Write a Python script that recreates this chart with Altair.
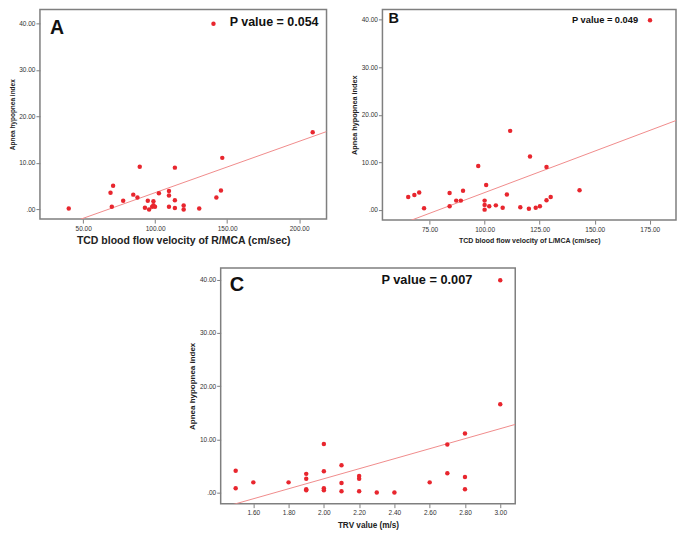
import altair as alt
import pandas as pd

# Panel A: TCD R/MCA vs AHI
a_x = [40, 69, 70.8, 69.9, 77.8, 84.8, 87.7, 89.3, 92.9, 94.9, 95.8, 97.9, 98.8, 98.8, 99.9,
       102.6, 109.6, 109.6, 109.6, 113.7, 113.7, 113.7, 119.8, 119.8, 130.6, 142.5, 145.7,
       146.6, 209.4, 140.5]
a_y = [0.2, 3.6, 5.1, 0.6, 1.9, 3.2, 2.6, 9.2, 0.4, 1.9, 0.0, 0.6, 1.8, 0.9, 0.6,
       3.5, 4.0, 3.0, 0.6, 9.0, 2.0, 0.35, 0.85, 0.0, 0.2, 2.6, 4.1,
       11.1, 16.6, 39.9]

# Panel B: TCD L/MCA vs AHI
b_x = [65.3, 68.1, 70.3, 72.5, 84.1, 84.1, 87.1, 89.2, 90.2, 97.1, 100, 100, 100, 100.7,
       102.1, 105.1, 108.2, 110.1, 111.6, 116.2, 120.1, 120.6, 123.2, 125.1, 128.1, 128.1,
       130, 143.1, 175.1]
b_y = [2.65, 3.1, 3.6, 0.3, 3.5, 0.7, 1.9, 1.9, 4.0, 9.2, 1.9, 1.0, 0.0, 5.2,
       0.7, 0.9, 0.4, 3.2, 16.6, 0.5, 0.2, 11.2, 0.4, 0.7, 2.0, 9.0,
       2.65, 4.1, 39.9]

# Panel C: TRV vs AHI
c_x = [1.5, 1.5, 1.6, 1.8, 1.9, 1.9, 1.9, 1.9, 2.0, 2.0, 2.0, 2.0, 2.1, 2.1, 2.1,
       2.2, 2.2, 2.2, 2.3, 2.4, 2.6, 2.7, 2.7, 2.8, 2.8, 2.8, 3.0, 3.0]
c_y = [4.1, 0.8, 1.9, 1.9, 3.5, 2.6, 0.6, 0.4, 9.1, 4.0, 0.8, 0.4, 5.1, 1.8, 0.25,
       3.1, 2.6, 0.25, 0.0, 0.0, 1.9, 9.0, 3.6, 11.1, 2.9, 0.6, 16.6, 39.9]

y_ticks = [0, 10, 20, 30, 40]
a_ticks = [50, 100, 150, 200]
b_ticks = [75, 100, 125, 150, 175]
c_ticks = [1.6, 1.8, 2.0, 2.2, 2.4, 2.6, 2.8, 3.0]

FONT = "Liberation Sans"
DOT = "#e8262e"
LINE = "#f08c8c"
FRAME = "#7f7f7f"
LBL = "datum.value == 0 ? '.00' : format(datum.value, '.2f')"


def panel(xs, ys, xdom, ydom, xticks, xtitle, xtitle_size, xtp, ytitle_size, w, h,
          letter, letter_size, letter_pos, ptext, psize, ppos, palign):
    df = pd.DataFrame({"x": xs, "y": ys})
    xs_ = alt.Scale(domain=xdom, nice=False, zero=False)
    ys_ = alt.Scale(domain=ydom, nice=False, zero=False)
    xax = alt.Axis(values=xticks, labelExpr=LBL, title=xtitle, titleFont=FONT,
                   titleFontSize=xtitle_size, titleFontWeight="bold", titleColor="#222",
                   labelFont=FONT, labelFontSize=6.5, labelColor="#333", tickColor=FRAME,
                   tickSize=4, labelPadding=2, domain=False, grid=False, titlePadding=xtp)
    yax = alt.Axis(values=y_ticks, labelExpr=LBL, title="Apnea hypopnea index",
                   titleFont=FONT, titleFontSize=ytitle_size, titleFontWeight="bold",
                   titleColor="#222", labelFont=FONT, labelFontSize=6.5, labelColor="#333",
                   tickColor=FRAME, tickSize=4, labelPadding=1, domain=False, grid=False,
                   titlePadding=3)
    base = alt.Chart(df)
    pts = base.mark_circle(size=20, color=DOT, opacity=1).encode(
        x=alt.X("x:Q", scale=xs_, axis=xax),
        y=alt.Y("y:Q", scale=ys_, axis=yax),
    )
    reg = base.transform_regression("x", "y", extent=xdom).mark_line(
        color=LINE, strokeWidth=1, clip=True).encode(
        x=alt.X("x:Q", scale=xs_), y=alt.Y("y:Q", scale=ys_))
    lt = alt.Chart(pd.DataFrame({"t": [letter]})).mark_text(
        font=FONT, fontSize=letter_size, fontWeight="bold", align="left",
        baseline="top", color="#111").encode(
        text="t:N", x=alt.value(letter_pos[0]), y=alt.value(letter_pos[1]))
    pt = alt.Chart(pd.DataFrame({"t": [ptext]})).mark_text(
        font=FONT, fontSize=psize, fontWeight="bold", align=palign,
        baseline="middle", color="#111").encode(
        text="t:N", x=alt.value(ppos[0]), y=alt.value(ppos[1]))
    return alt.layer(reg, pts, lt, pt).properties(
        width=w, height=h,
        view=alt.ViewBackground(stroke=FRAME, strokeWidth=1.5))


A = panel(a_x, a_y, [20, 219], [-2.05, 43], a_ticks,
          "TCD blood flow velocity of R/MCA (cm/sec)", 10.5, 4, 6.5, 287, 210,
          "A", 19.5, (10, 10), "P value = 0.054", 12.5, (190, 13), "left")
B = panel(b_x, b_y, [53.6, 186.9], [-2.2, 42.2], b_ticks,
          "TCD blood flow velocity of L/MCA (cm/sec)", 7, 4, 7.3, 294, 211,
          "B", 14.5, (6, 3), "P value = 0.049", 9.3, (256, 11), "right")
C = panel(c_x, c_y, [1.415, 3.085], [-2.1, 42.2], c_ticks, "TRV value (m/s)",
          8.2, 5, 8, 295, 236, "C", 20, (9, 7), "P value = 0.007", 12.8, (161, 12), "left")

spacer = alt.Chart(pd.DataFrame({"a": [0]})).mark_point(opacity=0).encode(
    x=alt.value(0), y=alt.value(0)).properties(
    width=147, height=10, view=alt.ViewBackground(stroke=None))

top = alt.hconcat(A, B, spacing=21)
bottom = alt.hconcat(spacer, C, spacing=0)
chart = alt.vconcat(top, bottom, spacing=18).properties(padding=0).configure(
    background="white")

chart.save("out.html", embed_options={"renderer": "svg", "actions": False})
